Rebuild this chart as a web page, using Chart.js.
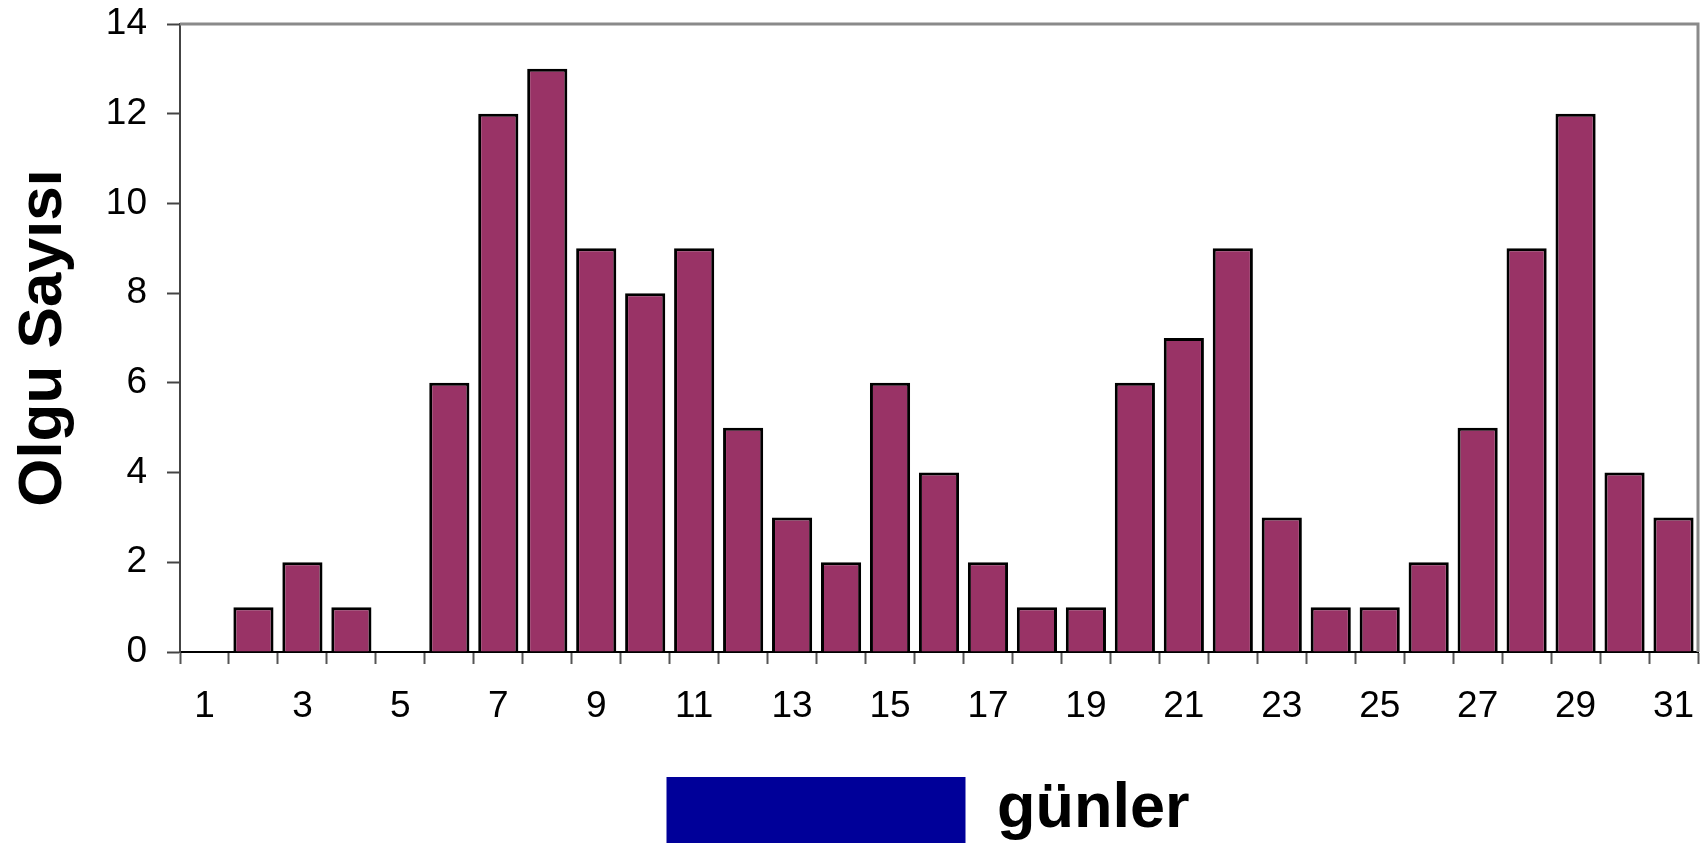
<!DOCTYPE html>
<html>
<head>
<meta charset="utf-8">
<script src="https://cdn.jsdelivr.net/npm/chart.js@4.4.0/dist/chart.umd.min.js"></script>
<style>
  html, body { margin: 0; padding: 0; background: #fff; overflow: hidden; }
  #wrap { position: absolute; left: 0; top: 0; width: 1707px; height: 853px; }
</style>
</head>
<body>
<div id="wrap"><canvas id="myChart"></canvas></div>
<script>
// days of the month and number of cases per day
var days = ['1','2','3','4','5','6','7','8','9','10','11','12','13','14','15','16',
            '17','18','19','20','21','22','23','24','25','26','27','28','29','30','31'];
var caseCounts = [0,1,2,1,0,6,12,13,9,8,9,5,3,2,6,4,2,1,1,6,7,9,3,1,1,2,5,9,12,4,3];
var yMax = 14;
var yStep = 2;
var seriesLabel = 'günler';
var axisTitle = 'Olgu Sayısı';

var fontFamily = "'Liberation Sans', Arial, sans-serif";

// gray frame on top and right of the plot area
var plotFrame = {
  id: 'plotFrame',
  beforeDatasetsDraw: function(chart) {
    var a = chart.chartArea;
    var c = chart.ctx;
    c.save();
    c.strokeStyle = '#8a8a8a';
    c.lineWidth = 3;
    c.beginPath();
    c.moveTo(a.left, a.top);
    c.lineTo(a.right, a.top);
    c.lineTo(a.right, a.bottom);
    c.stroke();
    c.restore();
  }
};

// legend sits right of the canvas centre in the original
var legendShift = {
  id: 'legendShift',
  afterLayout: function(chart) {
    chart.legend.left += 158;
  }
};

function noScalePadding(scale) {
  scale.paddingTop = 0;
  scale.paddingBottom = 0;
  scale.paddingLeft = 0;
  scale.paddingRight = 0;
}

var ctx = document.getElementById('myChart').getContext('2d');

var myChart = new Chart(ctx, {
  type: 'bar',
  data: {
    labels: days,
    datasets: [{
      label: seriesLabel,
      data: caseCounts,
      backgroundColor: '#993366',
      borderColor: '#000000',
      borderWidth: 3,
      barPercentage: 0.82,
      categoryPercentage: 1.0
    }]
  },
  options: {
    responsive: true,
    maintainAspectRatio: false,
    animation: false,
    layout: {
      autoPadding: false,
      padding: { top: 24, right: 9, left: 0, bottom: 0 }
    },
    plugins: {
      tooltip: { enabled: false },
      legend: {
        position: 'bottom',
        labels: {
          boxWidth: 299,
          boxHeight: 66,
          padding: 48,
          color: '#000',
          font: { family: fontFamily, size: 63, weight: 'bold' },
          generateLabels: function(chart) {
            return [{
              text: seriesLabel,
              fillStyle: '#000099',
              strokeStyle: '#000099',
              lineWidth: 0,
              hidden: false,
              datasetIndex: 0
            }];
          }
        }
      }
    },
    scales: {
      x: {
        afterFit: function(scale) {
          noScalePadding(scale);
          scale.height = 77;
        },
        grid: {
          display: true,
          offset: true,
          drawOnChartArea: false,
          tickLength: 12,
          tickWidth: 2,
          tickColor: '#555'
        },
        border: { color: '#000', width: 2 },
        ticks: {
          autoSkip: false,
          maxRotation: 0,
          padding: 21,
          color: '#000',
          font: { family: fontFamily, size: 37 },
          callback: function(val, i) {
            return i % 2 === 0 ? this.getLabelForValue(val) : '';
          }
        }
      },
      y: {
        min: 0,
        max: yMax,
        afterFit: function(scale) {
          noScalePadding(scale);
          scale.width = 180;
        },
        grid: {
          display: true,
          drawOnChartArea: false,
          tickLength: 13,
          tickWidth: 2,
          tickColor: '#444'
        },
        border: { color: '#444', width: 2 },
        ticks: {
          stepSize: yStep,
          padding: 20,
          color: '#000',
          font: { family: fontFamily, size: 37 }
        },
        title: {
          display: true,
          text: axisTitle,
          color: '#000',
          padding: { top: 7, bottom: 23 },
          font: { family: fontFamily, size: 62, weight: 'bold' }
        }
      }
    }
  },
  plugins: [plotFrame, legendShift]
});
</script>
</body>
</html>
